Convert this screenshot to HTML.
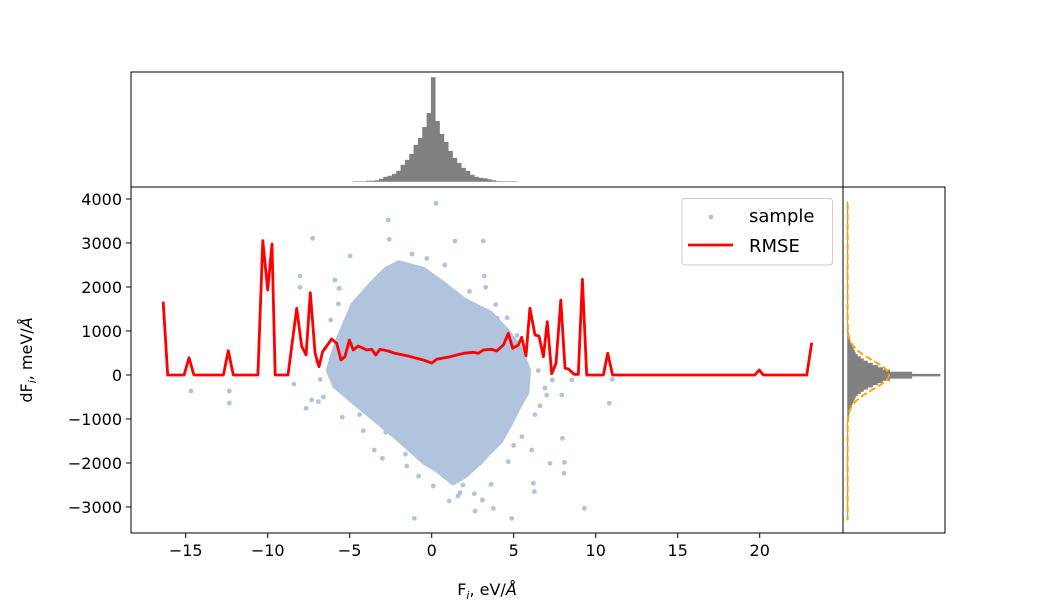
<!DOCTYPE html>
<html><head><meta charset="utf-8"><style>
html,body{margin:0;padding:0;background:#fff;}
svg{display:block;font-family:"DejaVu Sans","Liberation Sans",sans-serif;}
</style></head><body>
<svg id="chart" width="1050" height="600" viewBox="0 0 1050 600">
<g id="mainGroup"></g>
<g id="topGroup"></g>
<g id="rightGroup"></g>
</svg>
<script>
// ----- data -----
const xTicks = [-15, -10, -5, 0, 5, 10, 15, 20];
const yTicks = [4000, 3000, 2000, 1000, 0, -1000, -2000, -3000];
const rmseX = [-16.37,-16.1,-15.1,-14.8,-14.5,-12.7,-12.4,-12.1,-10.6,-10.3,-10.0,-9.74,-9.54,-8.76,-8.23,-7.93,-7.66,-7.4,-7.11,-6.87,-6.65,-6.1,-5.79,-5.53,-5.29,-5.02,-4.78,-4.48,-3.96,-3.66,-3.41,-3.15,-2.65,-2.24,-1.52,-0.51,0.0,0.3,1.12,1.93,2.54,2.84,3.15,3.66,3.96,4.37,4.67,4.94,5.28,5.49,5.75,5.99,6.3,6.54,6.81,7.05,7.32,7.58,7.87,8.13,8.34,8.68,8.94,9.19,9.45,10.47,10.73,11.03,19.7,19.97,20.22,22.87,23.17];
const rmseY = [1666,0,0,393,0,0,552,0,0,3052,1932,2977,0,0,1515,659,455,1870,493,189,530,818,720,341,416,795,568,659,568,583,455,583,545,493,439,341,270,356,416,493,515,493,568,583,545,682,947,606,682,856,439,1515,909,886,416,1212,30,265,1705,152,136,15,15,2174,0,0,493,0,0,114,0,0,735];
const cloudX = [-2.0,-0.5,0.8,2.0,3.6,4.6,5.4,5.9,5.8,5.2,4.8,4.2,3.4,2.9,2.0,1.3,0.3,-0.4,-1.9,-3.5,-4.8,-5.9,-6.3,-6.0,-5.6,-4.8,-3.6,-2.8];
const cloudY = [2550,2400,2050,1700,1400,1000,600,100,-400,-800,-1100,-1500,-1800,-2000,-2300,-2450,-2150,-2000,-1500,-1000,-600,-250,100,500,900,1600,2100,2400];
const sampleX = [0.26,-2.65,-7.26,-2.59,1.42,-4.98,-8.03,-8.03,-5.9,-5.65,-5.69,-6.16,-8.4,-14.68,-12.34,-12.34,-7.66,-7.32,-6.91,-5.45,-4.17,-3.5,-3.01,-1.52,0.1,1.07,-1.06,1.73,3.21,3.29,4.0,7.93,10.83,11.01,7.97,8.09,8.07,9.31,6.2,6.26,4.88,3.76,3.09,2.64,6.1,7.21,4.67,3.62,7.01,8.54,7.35,3.15,-6.6,-7.0,6.6,6.9,-1.2,-0.3,2.6,1.6,-4.2,-3.6,5.5,5.0,-2.4,0.8,-4.5,-3.9,-6.5,-6.8,6.3,6.5,4.6,5.2,-2.8,-1.6,1.9,3.9,-0.8,2.3,-5.2,-4.4];
const sampleY = [3902,3523,3106,3083,3045,2705,2250,1992,2159,1970,1614,1250,-205,-364,-364,-636,-758,-568,-606,-962,-1265,-1705,-1894,-2068,-2523,-2864,-3258,-2674,2250,1992,1288,-455,-644,-98,-1439,-1985,-2235,-3030,-2462,-2652,-3258,-3030,-2841,-3091,-1705,-2008,-1970,-2485,-455,-114,-114,3045,-500,300,-700,-300,2750,2650,-2700,-2750,1700,2000,-1400,-1600,2400,2500,1400,1800,600,-100,-900,100,1300,900,-1300,-1800,-2500,1600,-2300,1900,1100,-900];
const topCounts = [0.5,0.5,0.5,1,1,1.5,3,5,6,8,11,17,22,28,37,44,55,69,105,61,48,40,31,24,19,14,11,7,5,4,3.5,2.5,1.5,0.7,0.5,0.5,0.5,0.5];
const topStart = -4.8, topWidth = 0.264;
const rightCounts = [0.5,0.7,1,1.5,2,2.5,3,4,5,6,7,8,10,13,16,20,25,30,35,42,64,92,64,42,35,30,25,20,16,13,10,8,7,6,5,4,3,2.5,2,1.5,1,0.7,0.5];
const rightStart = -1075, rightWidth = 50;
const gaussPeak = 41, gaussSigma = 330;

// ----- axes -----
const L=131,R=843,T=187,B=533;
const X0=431.7, XU=16.4, Y0=375, YU=0.044;
const sx = v => X0 + XU*v;
const sy = v => Y0 - YU*v;
const NS='http://www.w3.org/2000/svg';
function mk(tag, attrs, parent){const e=document.createElementNS(NS,tag);for(const k in attrs)e.setAttribute(k,attrs[k]);parent.appendChild(e);return e;}
const mainG=document.getElementById('mainGroup'), topG=document.getElementById('topGroup'), rightG=document.getElementById('rightGroup');

// cloud
const cp=cloudX.map((x,i)=>sx(x).toFixed(1)+','+sy(cloudY[i]).toFixed(1)).join(' ');
const cloud=mk('polygon',{points:cp,fill:'#b0c4de','stroke':'#b0c4de','stroke-width':5,'stroke-linejoin':'round'},mainG);


sampleX.forEach((x,i)=>{
  const c=mk('circle',{cx:sx(x),cy:sy(sampleY[i]),r:2.4,fill:'#b0c4de'},mainG);
  
  
});
// RMSE
const rp=rmseX.map((x,i)=>sx(x).toFixed(1)+','+sy(rmseY[i]).toFixed(1)).join(' ');
const rl=mk('polyline',{points:rp,fill:'none',stroke:'#ff0000','stroke-width':2.8,'stroke-linejoin':'round'},mainG);


// frame
const fr=mk('rect',{x:L,y:T,width:R-L,height:B-T,fill:'none',stroke:'#000','stroke-width':1},mainG);


xTicks.forEach(t=>{
  const px=sx(t);
  mk('line',{x1:px,x2:px,y1:B,y2:B+5,stroke:'#000'},mainG);
  const tx=mk('text',{x:px,y:B+23,'font-size':16,'text-anchor':'middle',fill:'#000'},mainG);
  tx.textContent=(t<0?'\u2212':'')+Math.abs(t);
  
  
});
yTicks.forEach(t=>{
  const py=sy(t);
  mk('line',{x1:L-5,x2:L,y1:py,y2:py,stroke:'#000'},mainG);
  const tx=mk('text',{x:L-9,y:py+6,'font-size':16,'text-anchor':'end',fill:'#000'},mainG);
  tx.textContent=(t<0?'\u2212':'')+Math.abs(t);
  
  
});
const xl=mk('text',{x:487,y:595,'font-size':16,'text-anchor':'middle'},mainG);
xl.innerHTML='F<tspan font-size="11" dy="4" font-style="italic">i</tspan><tspan dy="-4">, eV/</tspan><tspan font-style="italic">Å</tspan>';


const yl=mk('text',{x:0,y:0,'font-size':16,'text-anchor':'middle',transform:'translate(32,360) rotate(-90)'},mainG);
yl.innerHTML='dF<tspan font-size="11" dy="4" font-style="italic">i</tspan><tspan dy="-4">, meV/</tspan><tspan font-style="italic">Å</tspan>';


// legend
const lg=mk('g',{},mainG);


mk('rect',{x:682,y:198.5,width:150.5,height:66.5,rx:3,fill:'#fff','fill-opacity':0.8,stroke:'#cccccc'},lg);
mk('circle',{cx:711,cy:217,r:2.4,fill:'#b0c4de'},lg);
const t1=mk('text',{x:749,y:222,'font-size':18},lg);t1.textContent='sample';


mk('line',{x1:688,x2:733,y1:245,y2:245,stroke:'#ff0000','stroke-width':2.8},lg);
const t2=mk('text',{x:749,y:252,'font-size':18},lg);t2.textContent='RMSE';



// top hist
const topMax=Math.max(...topCounts);
const TT=72,TB=187;
const tyS=v=>TB-(v+0.05*topMax)/(1.1*topMax)*(TB-TT);
topCounts.forEach((c,i)=>{
  const x1=sx(topStart+i*topWidth), x2=sx(topStart+(i+1)*topWidth);
  const b=mk('rect',{x:x1,y:tyS(c),width:x2-x1+0.3,height:tyS(0)-tyS(c),fill:'#808080'},topG);
  
  
});
mk('rect',{x:L,y:TT,width:R-L,height:TB-TT,fill:'none',stroke:'#000'},topG);

// right hist
const RL=843,RR=945;
const rMax=Math.max(...rightCounts);
const rxS=v=>RL+(v+0.05*rMax)/(1.1*rMax)*(RR-RL);
rightCounts.forEach((c,i)=>{
  const y1=sy(rightStart+(i+1)*rightWidth), y2=sy(rightStart+i*rightWidth);
  const b=mk('rect',{x:rxS(0),y:y1,width:rxS(c)-rxS(0),height:y2-y1+0.3,fill:'#808080'},rightG);
  
  
});
mk('line',{x1:rxS(0),x2:rxS(0),y1:sy(3950),y2:sy(-3300),stroke:'#808080','stroke-width':0.8},rightG);
const gp=[];
for(let v=3900; v>=-3300; v-=25){gp.push(rxS(gaussPeak*Math.exp(-v*v/(2*gaussSigma*gaussSigma))).toFixed(1)+','+sy(v).toFixed(1));}
const gl=mk('polyline',{points:gp.join(' '),fill:'none',stroke:'#ffa500','stroke-width':2,'stroke-dasharray':'7,3'},rightG);


mk('rect',{x:RL,y:T,width:RR-RL,height:B-T,fill:'none',stroke:'#000'},rightG);
</script>
</body></html>
